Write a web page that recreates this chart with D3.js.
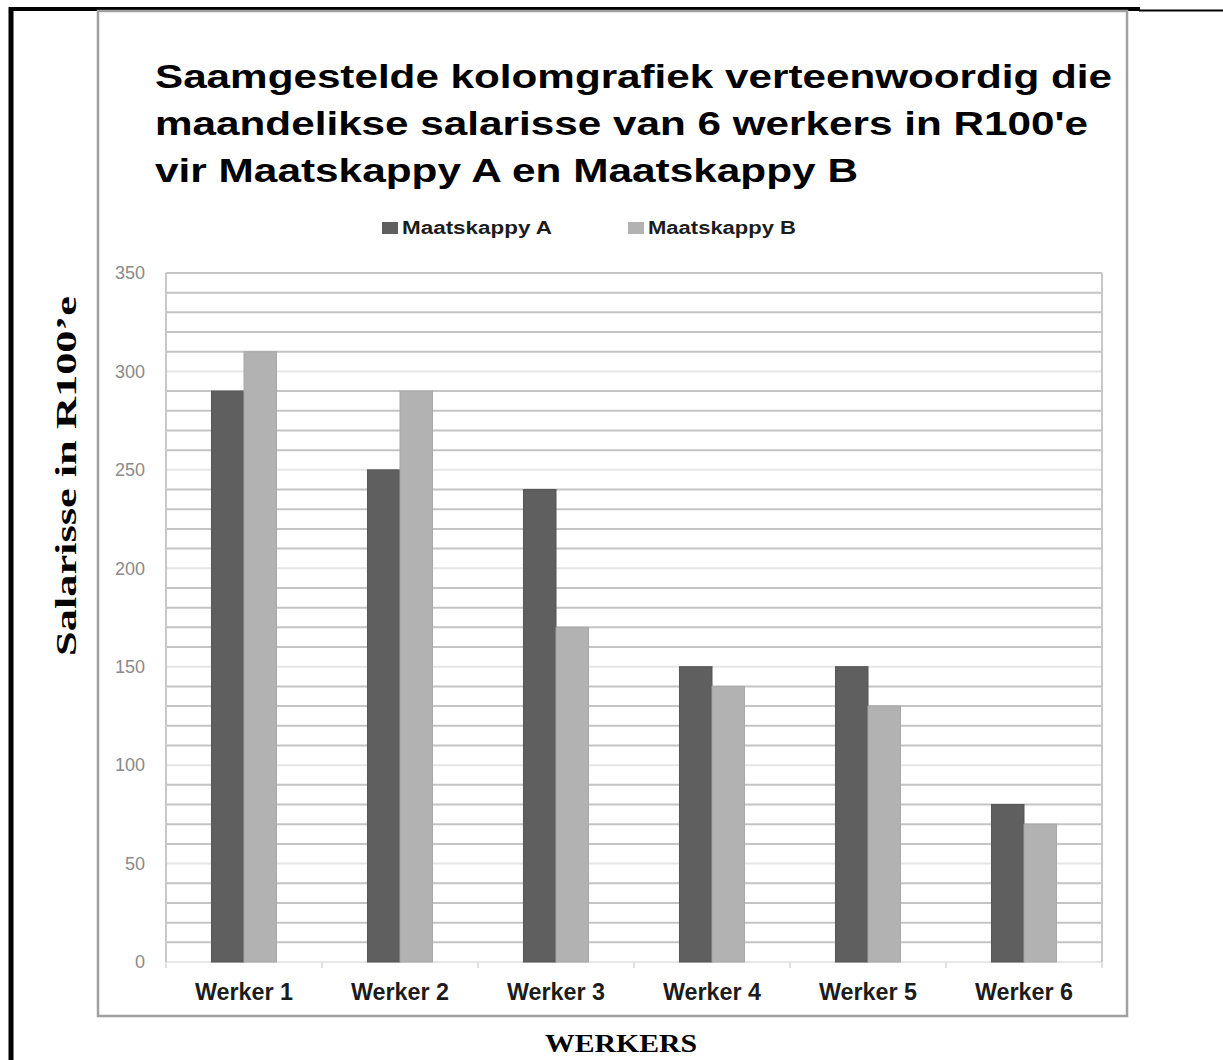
<!DOCTYPE html>
<html>
<head>
<meta charset="utf-8">
<script src="https://cdn.jsdelivr.net/npm/d3@7"></script>
<style>
  body { margin: 0; background: #fff; }
  svg { display: block; }
</style>
</head>
<body>
<div id="container"></div>
<script>
const width = 1223;
const height = 1060;

//------------------DATA------------------//
const workers = ["Werker 1", "Werker 2", "Werker 3", "Werker 4", "Werker 5", "Werker 6"];
const companies = ["Maatskappy A", "Maatskappy B"];
const salaryA = [290, 250, 240, 150, 150, 80];
const salaryB = [310, 290, 170, 140, 130, 70];
const yTicks = [0, 50, 100, 150, 200, 250, 300, 350];
const titleLines = [
  "Saamgestelde kolomgrafiek verteenwoordig die",
  "maandelikse salarisse van 6 werkers in R100'e",
  "vir Maatskappy A en Maatskappy B"
];
const titleWidths = [957, 933, 703];
const yTitle = "Salarisse in R100\u2019e";
const xTitle = "WERKERS";

const rows = workers.map(function(w, i) {
  return { worker: w, "Maatskappy A": salaryA[i], "Maatskappy B": salaryB[i] };
});

//------------------SVG------------------//
const svg = d3.select("#container").append("svg")
  .attr("width", width)
  .attr("height", height);

// document frame
svg.append("line").attr("x1", 11).attr("x2", 11).attr("y1", 7).attr("y2", height)
  .style("stroke", "#000").style("stroke-width", 5);
svg.append("line").attr("x1", 9).attr("x2", 1140).attr("y1", 9).attr("y2", 9)
  .style("stroke", "#000").style("stroke-width", 4);
svg.append("line").attr("x1", 1139).attr("x2", width).attr("y1", 10.5).attr("y2", 10.5)
  .style("stroke", "#000").style("stroke-width", 2);

// chart box
svg.append("rect")
  .attr("x", 98).attr("y", 11)
  .attr("width", 1029).attr("height", 1005)
  .style("fill", "none")
  .style("stroke", "#a0a0a0")
  .style("stroke-width", 2.5);

//------------------SCALES------------------//
const plotLeft = 166, plotRight = 1102, plotTop = 273, plotBottom = 962;
const x0 = d3.scaleBand()
  .domain(workers)
  .range([plotLeft, plotRight])
  .paddingInner(0.583)
  .paddingOuter(0.2915);
const x1 = d3.scaleBand()
  .domain(companies)
  .range([0, x0.bandwidth()]);
const y = d3.scaleLinear().domain([0, 350]).range([plotBottom, plotTop]);
const color = d3.scaleOrdinal().domain(companies).range(["#5f5f5f", "#b2b2b2"]);

//------------------GRID------------------//
const grid = svg.append("g");
grid.selectAll("line")
  .data(y.ticks(35))
  .enter()
  .append("line")
  .attr("x1", plotLeft).attr("x2", plotRight)
  .attr("y1", function(d) { return y(d); })
  .attr("y2", function(d) { return y(d); })
  .style("stroke", function(d) {
    return (d % 50 === 0 && d !== 350) ? "#e6e6e6" : "#c4c4c4";
  })
  .style("stroke-width", 2);

[plotLeft, plotRight].forEach(function(px) {
  svg.append("line")
    .attr("x1", px).attr("x2", px)
    .attr("y1", plotTop).attr("y2", plotBottom + 5)
    .style("stroke", "#c8c8c8").style("stroke-width", 2);
});

// category separator ticks
svg.append("g").selectAll("line")
  .data(d3.range(workers.length + 1))
  .enter()
  .append("line")
  .attr("x1", function(i) { return plotLeft + i * x0.step(); })
  .attr("x2", function(i) { return plotLeft + i * x0.step(); })
  .attr("y1", plotBottom).attr("y2", plotBottom + 6)
  .style("stroke", "#e0e0e0").style("stroke-width", 2);

//------------------BARS------------------//
const groups = svg.selectAll("g.group")
  .data(rows)
  .enter()
  .append("g")
  .attr("class", "group")
  .attr("transform", function(d) { return "translate(" + x0(d.worker) + ",0)"; });

groups.selectAll("rect")
  .data(function(d) { return companies.map(function(c) { return { key: c, value: d[c] }; }); })
  .enter()
  .append("rect")
  .attr("x", function(d) { return x1(d.key); })
  .attr("y", function(d) { return y(d.value); })
  .attr("width", x1.bandwidth())
  .attr("height", function(d) { return y(0) - y(d.value); })
  .style("fill", function(d) { return color(d.key); })
  .style("stroke", function(d) { return d.key === "Maatskappy A" ? "#555" : "#a8a8a8"; })
  .style("stroke-width", 1);

//------------------AXES------------------//
const yaxis = d3.axisLeft(y).tickValues(yTicks).tickSize(0).tickPadding(21);
const gy = svg.append("g")
  .attr("transform", "translate(" + plotLeft + ",0)")
  .call(yaxis);
gy.select(".domain").remove();
gy.selectAll("text")
  .style("font-family", "'Liberation Sans', Arial, sans-serif")
  .style("font-size", "18px")
  .style("fill", "#8a8a8a");

const xaxis = d3.axisBottom(x0).tickSize(0);
const gx = svg.append("g")
  .attr("transform", "translate(0," + plotBottom + ")")
  .call(xaxis);
gx.select(".domain").remove();
gx.selectAll("text")
  .attr("y", 38).attr("dy", 0)
  .attr("textLength", 98)
  .attr("lengthAdjust", "spacingAndGlyphs")
  .style("font-family", "'Liberation Sans', Arial, sans-serif")
  .style("font-weight", "bold")
  .style("font-size", "24px")
  .style("fill", "#1c1c1c");

//------------------TITLE------------------//
svg.selectAll("text.title")
  .data(titleLines)
  .enter()
  .append("text")
  .attr("class", "title")
  .attr("x", 155)
  .attr("y", function(d, i) { return 88 + i * 47; })
  .attr("textLength", function(d, i) { return titleWidths[i]; })
  .attr("lengthAdjust", "spacingAndGlyphs")
  .style("font-family", "'Liberation Sans', Arial, sans-serif")
  .style("font-weight", "bold")
  .style("font-size", "33px")
  .style("fill", "#000")
  .text(function(d) { return d; });

//------------------LEGEND------------------//
const legendX = [382, 628];
const legendW = [150, 148];
const legend = svg.selectAll("g.legend")
  .data(companies)
  .enter()
  .append("g")
  .attr("class", "legend")
  .attr("transform", function(d, i) { return "translate(" + legendX[i] + ",0)"; });
legend.append("rect")
  .attr("x", 0).attr("y", 222)
  .attr("width", 16).attr("height", 12)
  .style("fill", function(d) { return color(d); });
legend.append("text")
  .attr("x", 20).attr("y", 234)
  .attr("textLength", function(d, i) { return legendW[i]; })
  .attr("lengthAdjust", "spacingAndGlyphs")
  .style("font-family", "'Liberation Sans', Arial, sans-serif")
  .style("font-weight", "bold")
  .style("font-size", "18px")
  .style("fill", "#1c1c1c")
  .text(function(d) { return d; });

//------------------AXIS TITLES------------------//
svg.append("text")
  .attr("transform", "translate(76,476) rotate(-90)")
  .attr("text-anchor", "middle")
  .attr("textLength", 360)
  .attr("lengthAdjust", "spacingAndGlyphs")
  .style("font-family", "'Liberation Serif', 'Times New Roman', serif")
  .style("font-weight", "bold")
  .style("font-size", "30px")
  .style("fill", "#000")
  .text(yTitle);

svg.append("text")
  .attr("x", 621).attr("y", 1052)
  .attr("text-anchor", "middle")
  .attr("textLength", 152)
  .attr("lengthAdjust", "spacingAndGlyphs")
  .style("font-family", "'Liberation Serif', 'Times New Roman', serif")
  .style("font-weight", "bold")
  .style("font-size", "25px")
  .style("fill", "#000")
  .text(xTitle);
</script>
</body>
</html>
